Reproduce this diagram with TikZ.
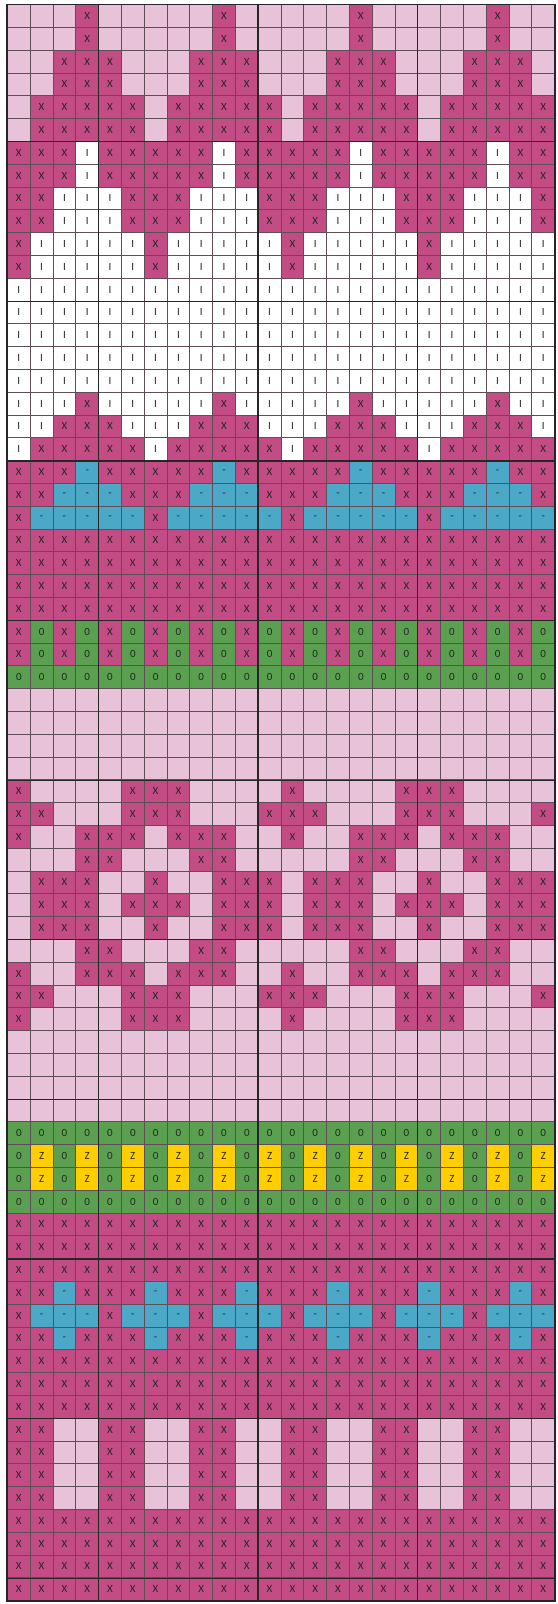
\documentclass[tikz,border=0pt]{standalone}
\usepackage{fontspec}
\setmainfont{Carlito}
\definecolor{knitrose}{RGB}{196,76,132}
\definecolor{knitblush}{RGB}{232,194,216}
\definecolor{knitblue}{RGB}{75,168,198}
\definecolor{knitgreen}{RGB}{90,160,80}
\definecolor{knityellow}{RGB}{255,206,0}
\definecolor{gridline}{RGB}{95,78,88}

\def\cw{22.8}\def\ch{22.8}\def\gx{7.4}\def\gy{4.6}
\newcount\knitcol
\newcommand\knitcell[1]{%
  \global\advance\knitcol by 1
  \node (c\r-\the\knitcol) at ({\gx+(\the\knitcol-0.5)*\cw},{-\gy-(\r-0.5)*\ch}) [st#1];}
\def\knitparse#1{%
  \ifx#1\relax\else
    \knitcell{#1}%
    \expandafter\knitparse
  \fi}
% one chart row: the motif is repeated over the 24 stitches
\newcommand\knitrow[1]{%
  \edef\knitmotif{#1}\global\knitcol=0
  \loop\expandafter\knitparse\knitmotif\relax\ifnum\knitcol<24 \repeat}

\begin{document}
\begin{tikzpicture}[x=1pt, y=1pt,
  stitch/.style={draw=gridline, line width=0.7pt, minimum width=\cw pt, minimum height=\ch pt,
    inner sep=0pt, font=\fontsize{11}{13}\selectfont, text=black!85},
  stx/.style={stitch, fill=knitrose, node contents={X}},
  stp/.style={stitch, fill=knitblush, node contents={}},
  sti/.style={stitch, fill=white, node contents={I}},
  stb/.style={stitch, fill=knitblue, node contents={-}},
  sto/.style={stitch, fill=knitgreen, node contents={0}},
  stz/.style={stitch, fill=knityellow, node contents={Z}},
  major/.style={line width=1.3pt, black!85}]
  \useasboundingbox (0,0) rectangle (557,-1604);
  \foreach \a/\b/\m in {1/2/pppxpp, 3/4/ppxxxp, 5/6/pxxxxx, 7/8/xxxixx, 9/10/xxiiix,
    11/12/xiiiii, 13/17/iiiiii, 18/18/iiixii, 19/19/iixxxi, 20/20/ixxxxx,
    21/21/xxxbxx, 22/22/xxbbbx, 23/23/xbbbbb, 24/27/xxxxxx, 28/29/xoxoxo,
    30/30/oooooo, 31/34/pppppp,
    35/35/xppppxxxpppp, 36/36/xxpppxxxpppx, 37/37/xppxxxpxxxpp, 38/38/pppxxpppxxpp,
    39/39/pxxxppxppxxx, 40/40/pxxxpxxxpxxx, 41/41/pxxxppxppxxx, 42/42/pppxxpppxxpp,
    43/43/xppxxxpxxxpp, 44/44/xxpppxxxpppx, 45/45/xppppxxxpppp,
    46/49/pppppp, 50/50/oooooo, 51/52/ozozoz, 53/53/oooooo,
    54/56/xxxx, 57/57/xxbx, 58/58/xbbb, 59/59/xxbx, 60/62/xxxx, 63/66/xxpp, 67/70/xxxx}
    {\foreach \r in {\a,...,\b} {\knitrow{\m}}}
  \foreach \c in {5,12,19}
    \draw[major] (c1-\c.north west) -- (c70-\c.south west);
  \foreach \r in {6,13,...,69}
    \draw[major] (c\r-1.south west) -- (c\r-24.south east);
  \draw[major] (c1-1.north west) rectangle (c70-24.south east);
\end{tikzpicture}
\end{document}
